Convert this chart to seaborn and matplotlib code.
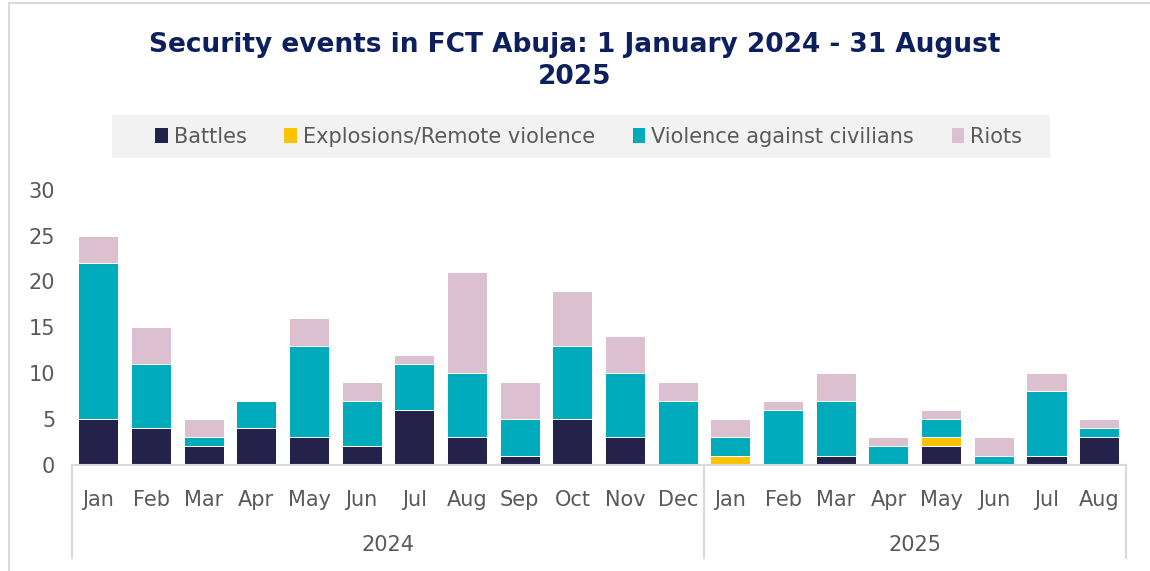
import numpy as np
import pandas as pd
import matplotlib
matplotlib.use('Agg')
import matplotlib.pyplot as plt
from matplotlib.patches import Patch, Rectangle
import seaborn as sns

months = ['Jan', 'Feb', 'Mar', 'Apr', 'May', 'Jun', 'Jul', 'Aug', 'Sep', 'Oct', 'Nov', 'Dec',
          'Jan', 'Feb', 'Mar', 'Apr', 'May', 'Jun', 'Jul', 'Aug']
years = ['2024'] * 12 + ['2025'] * 8
battles = [5, 4, 2, 4, 3, 2, 6, 3, 1, 5, 3, 0, 0, 0, 1, 0, 2, 0, 1, 3]
explosions = [0, 0, 0, 0, 0, 0, 0, 0, 0, 0, 0, 0, 1, 0, 0, 0, 1, 0, 0, 0]
violence = [17, 7, 1, 3, 10, 5, 5, 7, 4, 8, 7, 7, 2, 6, 6, 2, 2, 1, 7, 1]
riots = [3, 4, 2, 0, 3, 2, 1, 11, 4, 6, 4, 2, 2, 1, 3, 1, 1, 2, 2, 1]

series_names = ['Battles', 'Explosions/Remote violence', 'Violence against civilians', 'Riots']
colors = ['#24224b', '#fcc400', '#00acbc', '#dcc0cf']

df = pd.DataFrame({'month': months, 'year': years, 'Battles': battles,
                   'Explosions/Remote violence': explosions,
                   'Violence against civilians': violence, 'Riots': riots})
df['key'] = df['month'] + ' ' + df['year']
order = list(df['key'])

# cumulative stacks, drawn from the top layer down
cum = df[series_names].cumsum(axis=1)

fig = plt.figure(figsize=(11.5, 5.71), dpi=100)
ax = fig.add_axes([0.0626, 0.186, 0.9161, 0.4816])

for name, col in reversed(list(zip(series_names, colors))):
    sns.barplot(x=df['key'], y=cum[name], order=order, color=col, width=0.76,
                edgecolor='white', linewidth=0.7, saturation=1, ax=ax)

ax.set_xlim(-0.5, len(order) - 0.5)
ax.set_ylim(0, 30)
ax.set_yticks(range(0, 31, 5))
ax.set_xticks(range(len(order)))
ax.set_xticklabels(months)
ax.set_xlabel('')
ax.set_ylabel('')
for s in ['top', 'right', 'left']:
    ax.spines[s].set_visible(False)
ax.spines['bottom'].set_color('#d9d9d9')
ax.spines['bottom'].set_linewidth(1.5)
ax.tick_params(axis='both', length=0, labelsize=15, labelcolor='#595959')
ax.tick_params(axis='y', pad=12)
ax.tick_params(axis='x', pad=18)

# year grouping axis
for xb in [-0.5, 11.5, len(order) - 0.5]:
    ax.plot([xb, xb], [0, -0.34], transform=ax.get_xaxis_transform(),
            color='#d9d9d9', lw=1.5, clip_on=False)
ax.text(5.5, -0.29, '2024', transform=ax.get_xaxis_transform(), ha='center', va='center',
        fontsize=15, color='#595959')
ax.text(15.5, -0.29, '2025', transform=ax.get_xaxis_transform(), ha='center', va='center',
        fontsize=15, color='#595959')

# legend with its grey band
fig.add_artist(Rectangle((112 / 1150, 1 - 158 / 571), (1050 - 112) / 1150, 43 / 571,
                         transform=fig.transFigure, facecolor='#f2f2f2', edgecolor='none'))
handles = [Patch(facecolor=c, edgecolor='none') for c in colors]
leg = fig.legend(handles, series_names, loc='center', bbox_to_anchor=(0.512, 1 - 137 / 571), ncol=4,
                 frameon=False, handlelength=0.6, handleheight=0.7, handletextpad=0.3,
                 columnspacing=1.8, fontsize=15)
for t in leg.get_texts():
    t.set_color('#595959')

fig.text(0.5, 1 - 61 / 571, 'Security events in FCT Abuja: 1 January 2024 - 31 August\n2025',
         ha='center', va='center', fontsize=19, fontweight='bold', color='#0d1f5c',
         linespacing=1.3)

# chart border
fig.add_artist(plt.Line2D([9 / 1150, 9 / 1150], [0, 1 - 3 / 571], color='#d9d9d9', lw=1.5))
fig.add_artist(plt.Line2D([9 / 1150, 1], [1 - 3 / 571, 1 - 3 / 571], color='#d9d9d9', lw=1.5))

fig.savefig('out.png', dpi=100)
